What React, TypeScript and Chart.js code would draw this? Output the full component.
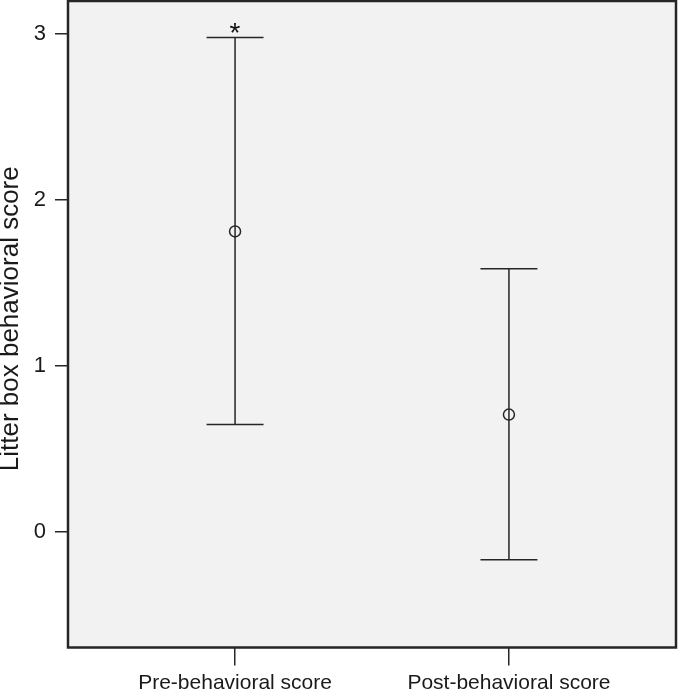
import React, { useEffect, useRef } from "react";
import { Chart, registerables } from "chart.js";

Chart.register(...registerables);

const categories = ["Pre-behavioral score", "Post-behavioral score"];
const categoryPositions = [1, 2];
const means = [1.81, 0.705];
const upperBounds = [2.98, 1.585];
const lowerBounds = [0.645, -0.17];
const significance = ["*", ""];
const yTickValues = [0, 1, 2, 3];
const yAxisTitle = "Litter box behavioral score";

const INK = "#262626";
const FONT = "'Liberation Sans', Arial, Helvetica, sans-serif";

const errorBarPlugin = {
  id: "errorBars",
  beforeDatasetsDraw(chart: any) {
    const { ctx, chartArea, scales } = chart;
    const xs = scales.x;
    const ys = scales.y;
    ctx.save();
    ctx.fillStyle = "#f2f2f2";
    ctx.fillRect(chartArea.left, chartArea.top, chartArea.right - chartArea.left, chartArea.bottom - chartArea.top);
    ctx.strokeStyle = INK;
    ctx.lineWidth = 1.5;
    const capHalf = 0.104;
    categoryPositions.forEach((xv, i) => {
      const x = xs.getPixelForValue(xv);
      const yTop = ys.getPixelForValue(upperBounds[i]);
      const yBot = ys.getPixelForValue(lowerBounds[i]);
      const xl = xs.getPixelForValue(xv - capHalf);
      const xr = xs.getPixelForValue(xv + capHalf);
      ctx.beginPath();
      ctx.moveTo(x, yTop);
      ctx.lineTo(x, yBot);
      ctx.moveTo(xl, yTop);
      ctx.lineTo(xr, yTop);
      ctx.moveTo(xl, yBot);
      ctx.lineTo(xr, yBot);
      ctx.stroke();
      if (significance[i]) {
        ctx.fillStyle = "#111";
        ctx.font = `28px ${FONT}`;
        ctx.textAlign = "center";
        ctx.textBaseline = "alphabetic";
        ctx.fillText(significance[i], x, yTop + 5);
      }
    });
    ctx.restore();
  },
  afterDraw(chart: any) {
    const { ctx, chartArea } = chart;
    ctx.save();
    ctx.strokeStyle = INK;
    ctx.lineWidth = 2.5;
    ctx.strokeRect(chartArea.left, chartArea.top, chartArea.right - chartArea.left, chartArea.bottom - chartArea.top);
    // y-axis title
    const cy = (chartArea.top + chartArea.bottom) / 2 - 5.5;
    ctx.translate(10.5, cy);
    ctx.rotate(-Math.PI / 2);
    ctx.fillStyle = "#1a1a1a";
    ctx.font = `26px ${FONT}`;
    ctx.textAlign = "center";
    ctx.textBaseline = "middle";
    ctx.fillText(yAxisTitle, 0, 0);
    ctx.restore();
  },
};

export default function App() {
  const ref = useRef<HTMLCanvasElement>(null);
  useEffect(() => {
    document.body.style.margin = "0";
    document.body.style.overflow = "hidden";
    const canvas = ref.current!;
    const chart = new Chart(canvas, {
      type: "scatter",
      data: {
        datasets: [
          {
            data: categoryPositions.map((x, i) => ({ x, y: means[i] })),
            pointStyle: "circle",
            pointRadius: 5.5,
            pointHoverRadius: 5.5,
            pointBorderWidth: 1.5,
            borderColor: INK,
            backgroundColor: "rgba(0,0,0,0)",
          },
        ],
      },
      plugins: [errorBarPlugin],
      options: {
        animation: false,
        responsive: false,
        maintainAspectRatio: false,
        layout: { autoPadding: false, padding: { top: 1, right: 2, left: 0, bottom: 0 } },
        plugins: { legend: { display: false }, tooltip: { enabled: false } },
        scales: {
          x: {
            type: "linear",
            min: 0.39,
            max: 2.61,
            afterBuildTicks: (s: any) => {
              s.ticks = categoryPositions.map((v) => ({ value: v }));
            },
            afterFit: (s: any) => {
              s.height = 43.5;
              s.paddingLeft = 0;
              s.paddingRight = 0;
            },
            border: { display: false },
            grid: { drawOnChartArea: false, drawTicks: true, tickLength: 18, color: INK, lineWidth: 1.5 },
            ticks: {
              autoSkip: false,
              maxRotation: 0,
              padding: 5,
              color: "#1a1a1a",
              font: { family: FONT, size: 21 },
              callback: (v: any) => {
                const idx = categoryPositions.indexOf(Number(v));
                return idx >= 0 ? categories[idx] : "";
              },
            },
          },
          y: {
            type: "linear",
            min: -0.7,
            max: 3.2,
            afterBuildTicks: (s: any) => {
              s.ticks = yTickValues.map((v) => ({ value: v }));
            },
            afterFit: (s: any) => {
              s.width = 68;
              s.paddingTop = 0;
              s.paddingBottom = 0;
            },
            border: { display: false },
            grid: { drawOnChartArea: false, drawTicks: true, tickLength: 13, color: INK, lineWidth: 1.5 },
            ticks: {
              padding: 9,
              color: "#1a1a1a",
              font: { family: FONT, size: 22 },
            },
            title: { display: false },
          },
        },
      },
    });
    return () => chart.destroy();
  }, []);
  return <canvas ref={ref} width={678} height={691} style={{ display: "block", width: 678, height: 691 }} />;
}
